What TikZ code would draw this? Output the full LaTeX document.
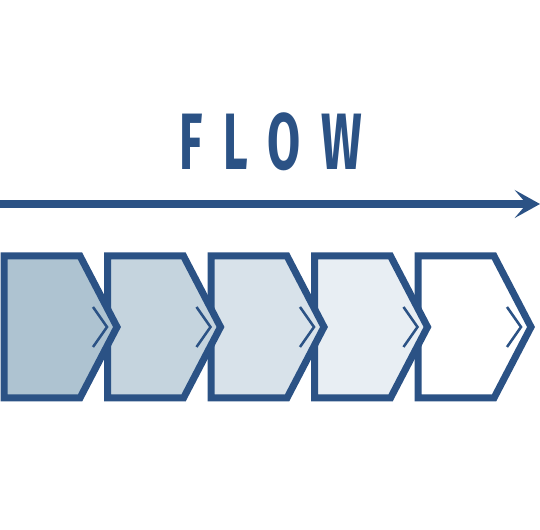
\documentclass[tikz,border=0pt]{standalone}
\usepackage{fontspec}
\newfontfamily\flowfont[LetterSpace=44]{Fira Sans}
\usetikzlibrary{arrows.meta}
\definecolor{flowblue}{HTML}{2B5285}
\definecolor{stage0}{HTML}{AEC3D1}
\definecolor{stage1}{HTML}{C5D4DE}
\definecolor{stage2}{HTML}{D8E2EA}
\definecolor{stage3}{HTML}{E8EEF3}
\definecolor{stage4}{HTML}{FFFFFF}
\tikzset{
    >=Stealth,
    flow/.style={
        x=0.75pt,y=-0.75pt,
        title/.append style={text=flowblue,font=\flowfont\bfseries\fontsize{60}{60}\selectfont,xscale=0.6,anchor=base,inner sep=0pt},
        stage/.append style={draw=flowblue,line width=5.25pt,miter limit=10},
        tick/.append style={draw=flowblue,line width=1.9pt},
        flowarrow/.append style={draw=flowblue,line width=6pt,-{Stealth[length=19pt,width=21pt,inset=9pt]}}
    }
}

\begin{document}
\begin{tikzpicture}[flow]
    \useasboundingbox (0,0) rectangle (540,530);
    \node[title] (t) at (271,170) {FLOW};

    \coordinate (a) at (0,204);
    \coordinate (b) at (540,204);
    \draw[flowarrow] (a) -- (b);

    \foreach \i in {4,3,2,1,0} {
        \pgfmathsetmacro{\l}{103.5*\i}
        \path[stage,fill=stage\i] (\l+4,256) -- (\l+80,256) -- (\l+117,327) -- (\l+80,398) -- (\l+4,398) -- cycle;
        \path[tick] (\l+93,307) -- (\l+107,327) -- (\l+93,347);
    }
\end{tikzpicture}
\end{document}
